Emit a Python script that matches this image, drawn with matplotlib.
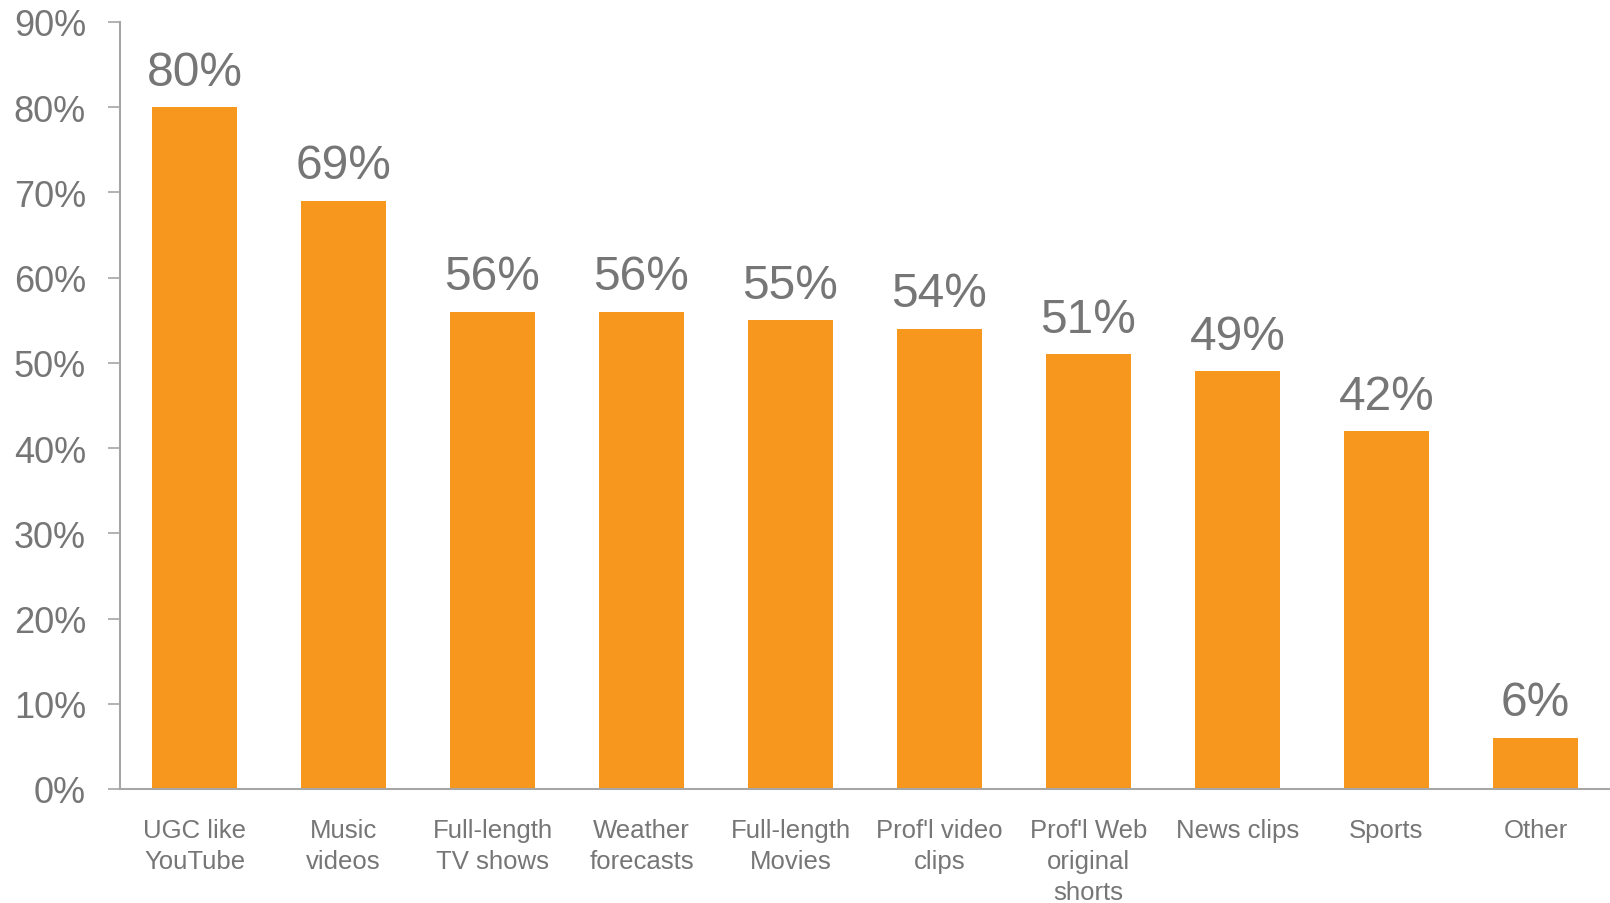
import matplotlib
matplotlib.use("Agg")
import matplotlib.pyplot as plt
from matplotlib.ticker import FuncFormatter

categories = ["UGC like\nYouTube", "Music\nvideos", "Full-length\nTV shows", "Weather\nforecasts",
              "Full-length\nMovies", "Prof'l video\nclips", "Prof'l Web\noriginal\nshorts",
              "News clips", "Sports", "Other"]
values = [80, 69, 56, 56, 55, 54, 51, 49, 42, 6]
yticks = [0, 10, 20, 30, 40, 50, 60, 70, 80, 90]

BAR = "#F7971E"
TXT = "#767676"
AX = "#A6A6A6"

plt.rcParams["font.family"] = ["Liberation Sans", "DejaVu Sans"]

fig = plt.figure(figsize=(16.10, 9.04), dpi=100)
ax = fig.add_axes([120/1610, 1 - 790/904, 1 - 120/1610, (790 - 23)/904])

x = list(range(len(categories)))
ax.bar(x, values, width=0.57, color=BAR, zorder=2)
for xi, v in zip(x, values):
    ax.annotate(f"{v}%", (xi, v), xytext=(0, 9), textcoords="offset points",
                ha="center", va="bottom", fontsize=34.5, color=TXT)

ax.set_xlim(-0.5, len(categories) - 0.5)
ax.set_ylim(0, 90)
ax.set_yticks(yticks)
ax.yaxis.set_major_formatter(FuncFormatter(lambda v, p: f"{int(v)}%"))
ax.set_xticks(x)
ax.set_xticklabels(categories, fontsize=18.5, color=TXT, linespacing=1.37)
ax.tick_params(axis="x", length=0, pad=21)
ax.tick_params(axis="y", length=8.5, width=1.2, color=AX, labelsize=26, labelcolor=TXT, pad=16)

for s in ["top", "right"]:
    ax.spines[s].set_visible(False)
for s in ["left", "bottom"]:
    ax.spines[s].set_color(AX)
    ax.spines[s].set_linewidth(1.5)

fig.savefig("out.png", dpi=100)
